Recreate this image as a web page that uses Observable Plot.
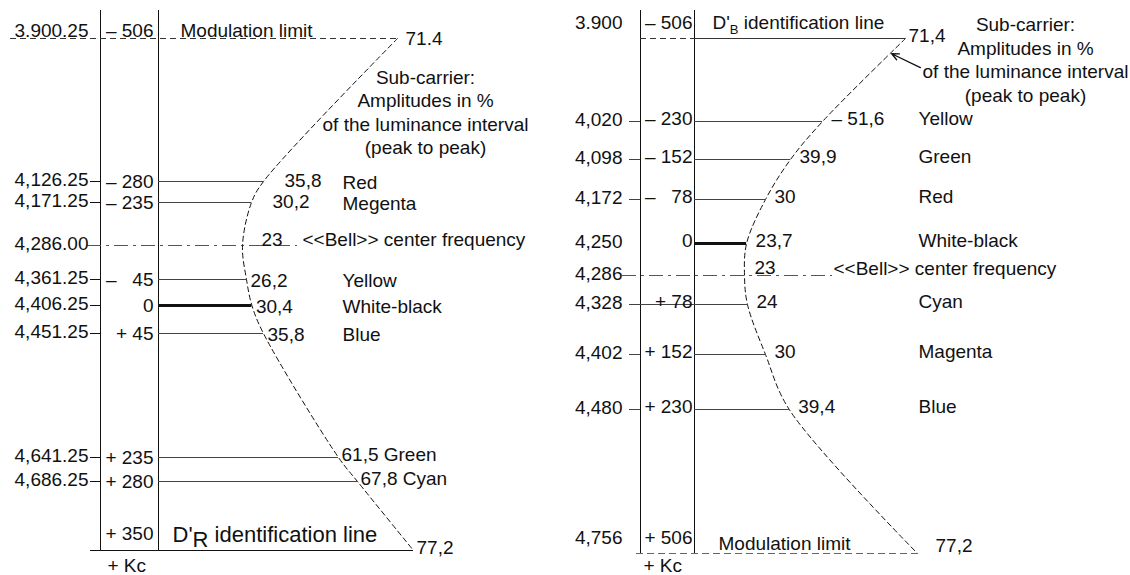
<!DOCTYPE html>
<html>
<head>
<meta charset="utf-8">
<script src="https://cdn.jsdelivr.net/npm/d3@7"></script>
<script src="https://cdn.jsdelivr.net/npm/@observablehq/plot@0.6"></script>
<style>
html, body { margin: 0; padding: 0; background: #fff; }
#wrap { display: flex; width: 1130px; height: 575px; overflow: hidden; }
#wrap svg { flex: none; overflow: visible; }
</style>
</head>
<body>
<div id="wrap"></div>
<script>
// ---------------- DATA: left panel (D'R) ----------------
const leftFreq = [3900.25, 4126.25, 4171.25, 4286.00, 4361.25, 4406.25, 4451.25, 4641.25, 4686.25, 4756.25];
const leftFreqText = ["3.900.25", "4,126.25", "4,171.25", "4,286.00", "4,361.25", "4,406.25", "4,451.25", "4,641.25", "4,686.25", ""];
const leftOffsetText = ["– 506", "– 280", "– 235", "", "– \u200745", "0", "+ 45", "+ 235", "+ 280", "+ 350"];
const leftAmp = [71.4, 35.8, 30.2, 23, 26.2, 30.4, 35.8, 61.5, 67.8, 77.2];
const leftAmpText = ["71.4", "35,8", "30,2", "23", "26,2", "30,4", "35,8", "61,5", "67,8", "77,2"];
const leftColour = ["", "Red", "Megenta", "", "Yellow", "White-black", "Blue", "Green", "Cyan", ""];
const leftBellFreq = 4286.00;
const leftTopNote = "Modulation limit";
const leftBottomNote = "D'R identification line";

// ---------------- DATA: right panel (D'B) ----------------
const rightFreq = [3900, 4020, 4098, 4172, 4250, 4286, 4328, 4402, 4480, 4756];
const rightFreqText = ["3.900", "4,020", "4,098", "4,172", "4,250", "4,286", "4,328", "4,402", "4,480", "4,756"];
const rightOffsetText = ["– 506", "– 230", "– 152", "– \u200778", "0", "", "+ 78", "+ 152", "+ 230", "+ 506"];
const rightAmp = [71.4, 51.6, 39.9, 30, 23.7, 23, 24, 30, 39.4, 77.2];
const rightAmpText = ["71,4", "– 51,6", "39,9", "30", "23,7", "23", "24", "30", "39,4", "77,2"];
const rightColour = ["", "Yellow", "Green", "Red", "White-black", "", "Cyan", "Magenta", "Blue", ""];
const rightBellFreq = 4286;
const rightTopNote = "D'B identification line";
const rightBottomNote = "Modulation limit";
const rightArrowFrom = {amp: 78.6, freq: 3942};
const rightArrowTo = {amp: 68.1, freq: 3922};

// ---------------- shared texts ----------------
const bellNote = "<<Bell>> center frequency";
const subCarrierLines = ["Sub-carrier:", "Amplitudes in %", "of the luminance interval", "(peak to peak)"];
const kcLabel = "+ Kc";

// ---------------- helpers ----------------
const INK = "#111";
const FONT = "'Liberation Sans', Arial, Helvetica, sans-serif";
const W = 565, H = 575;

function table(freq, freqText, offsetText, amp, ampText, colour) {
  const n = freq.length;
  return freq.map((f, i) => ({
    i, freq: f, freqText: freqText[i], offsetText: offsetText[i],
    amp: amp[i], ampText: ampText[i], colour: colour[i],
    top: i === 0, bottom: i === n - 1
  }));
}

// ================= LEFT PANEL =================
const L = table(leftFreq, leftFreqText, leftOffsetText, leftAmp, leftAmpText, leftColour);
const lTop = L.filter(d => d.top), lBottom = L.filter(d => d.bottom);
const lBell = L.filter(d => d.freq === leftBellFreq);
const lZero = L.filter(d => d.offsetText === "0");
const lMid = L.filter(d => !d.top && !d.bottom);
const lRows = lMid.filter(d => d.freq !== leftBellFreq && d.offsetText !== "0");
const lTicks = lMid.filter(d => d.freq !== leftBellFreq);
const lInline = lRows.filter(d => d.amp > 50);             // colour written right after the value
const lUpper = lRows.filter(d => d.freq < leftBellFreq);
const lLower = lMid.filter(d => d.freq > leftBellFreq && d.amp <= 50);
const lColumn = lMid.filter(d => d.colour && d.amp <= 50);
const LM = 158;
const lc = (LM + W) / 2;

const leftPlot = Plot.plot({
  width: W, height: H,
  marginLeft: LM, marginRight: 0, marginTop: 10, marginBottom: 25,
  style: {fontFamily: FONT, fontSize: "19px", color: INK, background: "#fff", overflow: "visible"},
  // schematic (piecewise) amplitude scale, as in the drawing
  x: {type: "linear", domain: [23, 30.2, 35.8, 61.5, 67.8, 71.4, 77.2], range: [242, 251, 263, 338, 357, 397, 413], axis: null},
  y: {type: "linear", domain: leftFreq, range: [38, 181, 202, 245, 279, 305, 333, 457, 481, 550], axis: null},
  marks: [
    Plot.ruleX([0], {x: null, dx: 100 - lc, stroke: INK}),
    Plot.ruleX([0], {x: null, dx: LM - lc, stroke: INK}),
    Plot.ruleY(lTicks, {y: "freq", insetLeft: 90 - LM, insetRight: W - 100, stroke: INK}),
    Plot.ruleY(lTop, {y: "freq", x1: null, x2: "amp", insetLeft: 10 - LM, stroke: "#333", strokeDasharray: "6,4"}),
    Plot.ruleY(lBell, {y: "freq", insetLeft: 87 - LM, insetRight: W - 297, stroke: "#555", strokeDasharray: "14,5,3,5"}),
    Plot.ruleY(lRows, {y: "freq", x1: null, x2: "amp", stroke: "#444"}),
    Plot.ruleY(lZero, {y: "freq", x1: null, x2: "amp", stroke: INK, strokeWidth: 3}),
    Plot.ruleY(lBottom, {y: "freq", x1: null, x2: "amp", insetLeft: 90 - LM, stroke: INK}),
    Plot.line(L, {x: "amp", y: "freq", curve: "catmull-rom", stroke: INK, strokeWidth: 1, strokeDasharray: "5,3.5"}),
    // frequency labels
    Plot.text(lMid, {y: "freq", text: "freqText", frameAnchor: "left", dx: 88 - LM, dy: -2, textAnchor: "end"}),
    Plot.text(lTop, {y: "freq", text: "freqText", frameAnchor: "left", dx: 88 - LM, dy: -8, textAnchor: "end"}),
    // offset labels
    Plot.text(lMid, {y: "freq", text: "offsetText", frameAnchor: "left", dx: -5, textAnchor: "end"}),
    Plot.text(lTop, {y: "freq", text: "offsetText", frameAnchor: "left", dx: -5, dy: -8, textAnchor: "end"}),
    Plot.text(lBottom, {y: "freq", text: "offsetText", frameAnchor: "left", dx: -5, dy: -17, textAnchor: "end"}),
    // amplitude labels
    Plot.text(lTop, {x: "amp", y: "freq", text: "ampText", dx: 8, textAnchor: "start"}),
    Plot.text(lUpper, {x: "amp", y: "freq", text: "ampText", dx: 21, dy: -1, textAnchor: "start"}),
    Plot.text(lBell, {x: "amp", y: "freq", text: "ampText", dx: 19, dy: -6, textAnchor: "start"}),
    Plot.text(lLower, {x: "amp", y: "freq", text: "ampText", dx: 4, dy: 1, textAnchor: "start"}),
    Plot.text(lInline, {x: "amp", y: "freq", text: d => `${d.ampText} ${d.colour}`, dx: 3, dy: -3, textAnchor: "start"}),
    Plot.text(lBottom, {x: "amp", y: "freq", text: "ampText", dx: 3, dy: -3, textAnchor: "start"}),
    // colour names
    Plot.text(lColumn, {y: "freq", text: "colour", frameAnchor: "left", dx: 342 - LM, dy: 1, textAnchor: "start"}),
    // notes
    Plot.text(lTop, {y: "freq", text: () => leftTopNote, frameAnchor: "left", dx: 22, dy: -8, textAnchor: "start"}),
    Plot.text(lBell, {y: "freq", text: () => bellNote, frameAnchor: "left", dx: 302 - LM, dy: -6, textAnchor: "start"}),
    Plot.text(lBottom, {y: "freq", text: () => leftBottomNote, frameAnchor: "left", dx: 14, dy: -16, fontSize: 22, textAnchor: "start"}),
    Plot.text(lBottom, {y: "freq", text: () => kcLabel, frameAnchor: "left", dx: 107 - LM, dy: 15, textAnchor: "start"}),
    Plot.text([subCarrierLines.join("\n")], {frameAnchor: "top-left", dx: 425 - LM, dy: 57, lineAnchor: "top", textAnchor: "middle", lineHeight: 1.23})
  ]
});

// ================= RIGHT PANEL =================
const R = table(rightFreq, rightFreqText, rightOffsetText, rightAmp, rightAmpText, rightColour);
const rTop = R.filter(d => d.top), rBottom = R.filter(d => d.bottom);
const rBell = R.filter(d => d.freq === rightBellFreq);
const rZero = R.filter(d => d.offsetText === "0");
const rMid = R.filter(d => !d.top && !d.bottom);
const rRows = rMid.filter(d => d.freq !== rightBellFreq && d.offsetText !== "0");
const rFromAxis = rRows.filter(d => d.offsetText === "+ 78");   // this line starts at the outer axis
const rInner = rRows.filter(d => d.offsetText !== "+ 78");
const rTicks = rRows;
const RM = 129, RX0 = 565;
const rc = (RM + W) / 2;

const rightPlot = Plot.plot({
  width: W, height: H,
  marginLeft: RM, marginRight: 0, marginTop: 10, marginBottom: 22,
  style: {fontFamily: FONT, fontSize: "19px", color: INK, background: "#fff", overflow: "visible"},
  // schematic (piecewise) amplitude scale, as in the drawing
  x: {type: "linear", domain: [23, 30, 39.9, 51.6, 71.4, 77.2], range: [744 - RX0, 765 - RX0, 790 - RX0, 822 - RX0, 905 - RX0, 917 - RX0], axis: null},
  y: {type: "linear", domain: rightFreq, range: [38, 121, 159, 199, 243, 275, 304, 354, 409, 553], axis: null},
  marks: [
    Plot.ruleX([0], {x: null, dx: 75 - rc, stroke: INK}),
    Plot.ruleX([0], {x: null, dx: RM - rc, stroke: INK}),
    Plot.ruleY(rTicks, {y: "freq", insetLeft: 64 - RM, insetRight: W - 75, stroke: "#444"}),
    Plot.ruleY(rTop, {y: "freq", insetLeft: 75 - RM, insetRight: W - RM, stroke: "#333", strokeDasharray: "6,4"}),
    Plot.ruleY(rTop, {y: "freq", x1: null, x2: "amp", stroke: "#333"}),
    Plot.ruleY(rBell, {y: "freq", insetLeft: 57 - RM, insetRight: W - 267, stroke: "#555", strokeDasharray: "14,5,3,5"}),
    Plot.ruleY(rInner, {y: "freq", x1: null, x2: "amp", stroke: "#444"}),
    Plot.ruleY(rFromAxis, {y: "freq", x1: null, x2: "amp", insetLeft: 75 - RM, stroke: "#444"}),
    Plot.ruleY(rZero, {y: "freq", x1: null, x2: "amp", stroke: INK, strokeWidth: 3}),
    Plot.ruleY(rBottom, {y: "freq", x1: null, x2: "amp", insetLeft: 71 - RM, stroke: "#666", strokeDasharray: "7,4"}),
    Plot.line(R, {x: "amp", y: "freq", curve: "catmull-rom", stroke: INK, strokeWidth: 1, strokeDasharray: "5,3.5"}),
    // frequency labels
    Plot.text(rMid, {y: "freq", text: "freqText", frameAnchor: "left", dx: 57 - RM, dy: -2, textAnchor: "end"}),
    Plot.text(rTop.concat(rBottom), {y: "freq", text: "freqText", frameAnchor: "left", dx: 57 - RM, dy: -16, textAnchor: "end"}),
    // offset labels
    Plot.text(rMid, {y: "freq", text: "offsetText", frameAnchor: "left", dx: -2, dy: -3, textAnchor: "end"}),
    Plot.text(rTop.concat(rBottom), {y: "freq", text: "offsetText", frameAnchor: "left", dx: -2, dy: -16, textAnchor: "end"}),
    // amplitude labels
    Plot.text(rTop, {x: "amp", y: "freq", text: "ampText", dx: 3, dy: -3, textAnchor: "start"}),
    Plot.text(rMid.filter(d => d.freq !== rightBellFreq), {x: "amp", y: "freq", text: "ampText", dx: 9, dy: -3, textAnchor: "start"}),
    Plot.text(rBell, {x: "amp", y: "freq", text: "ampText", dx: 10, dy: -8, textAnchor: "start"}),
    Plot.text(rBottom, {x: "amp", y: "freq", text: "ampText", dx: 18, dy: -8, textAnchor: "start"}),
    // colour names
    Plot.text(rMid.filter(d => d.colour), {y: "freq", text: "colour", frameAnchor: "left", dx: 918 - RX0 - RM, dy: -3, textAnchor: "start"}),
    // notes
    Plot.text(rTop, {y: "freq", text: () => rightTopNote, frameAnchor: "left", dx: 18, dy: -16, textAnchor: "start"}),
    Plot.text(rBottom, {y: "freq", text: () => rightBottomNote, frameAnchor: "left", dx: 24, dy: -10, textAnchor: "start"}),
    Plot.text(rBell, {y: "freq", text: () => bellNote, frameAnchor: "left", dx: 833 - RX0 - RM, dy: -7, textAnchor: "start"}),
    Plot.text(rBottom, {y: "freq", text: () => kcLabel, frameAnchor: "left", dx: 78 - RM, dy: 12, textAnchor: "start"}),
    Plot.text([subCarrierLines.join("\n")], {frameAnchor: "top-left", dx: 1025 - RX0 - RM, dy: 4, lineAnchor: "top", textAnchor: "middle", lineHeight: 1.24}),
    Plot.arrow([{a1: rightArrowFrom.amp, f1: rightArrowFrom.freq, a2: rightArrowTo.amp, f2: rightArrowTo.freq}],
      {x1: "a1", y1: "f1", x2: "a2", y2: "f2", stroke: INK, strokeWidth: 1.3, headLength: 9, headAngle: 50})
  ]
});

// subscripts in the identification-line labels
function subscript(svg, full, base, sub, rest, subSize, shift) {
  const ns = "http://www.w3.org/2000/svg";
  svg.querySelectorAll("text").forEach(t => {
    if (t.textContent === full) {
      t.textContent = "";
      const a = document.createElementNS(ns, "tspan"); a.textContent = base;
      const b = document.createElementNS(ns, "tspan"); b.textContent = sub;
      b.setAttribute("dy", shift); if (subSize) b.setAttribute("font-size", subSize);
      const c = document.createElementNS(ns, "tspan"); c.textContent = rest;
      c.setAttribute("dy", -shift);
      t.append(a, b, c);
    }
  });
}
subscript(leftPlot, leftBottomNote, "D'", "R", " identification line", null, 5);
subscript(rightPlot, rightTopNote, "D'", "B", " identification line", 13, 5);

document.getElementById("wrap").append(leftPlot, rightPlot);
</script>
</body>
</html>
